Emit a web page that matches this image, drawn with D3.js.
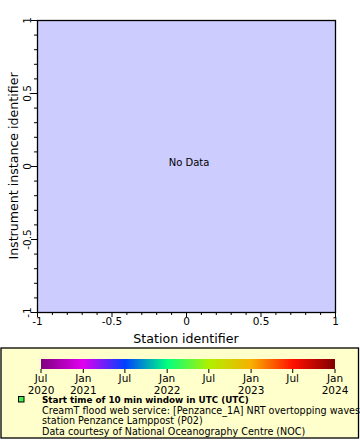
<!DOCTYPE html>
<html>
<head>
<meta charset="utf-8">
<script src="https://cdn.jsdelivr.net/npm/d3@7"></script>
<style>
html,body{margin:0;padding:0;background:#fff;}
svg{display:block;font-family:"DejaVu Sans",sans-serif;}
</style>
</head>
<body>
<svg id="chart" width="360" height="440"></svg>
<script>
// ---- data ----
const xDomain = [-1, 1];
const yDomain = [-1, 1];
const xTickValues = [-1, -0.5, 0, 0.5, 1];
const yTickValues = [-1, -0.5, 0, 0.5, 1];
const xTickLabels = ["-1", "-0.5", "0", "0.5", "1"];
const yTickLabels = ["-1", "-0.5", "0", "0.5", "1"];
const minorStep = 0.1;
const xTitle = "Station identifier";
const yTitle = "Instrument instance identifier";
const noDataText = "No Data";
const cbarStart = new Date(2020, 6, 1);
const cbarEnd = new Date(2024, 0, 1);
const cbarTickDates = [new Date(2020,6,1), new Date(2021,0,1), new Date(2021,6,1), new Date(2022,0,1),
                       new Date(2022,6,1), new Date(2023,0,1), new Date(2023,6,1), new Date(2024,0,1)];
const cbarTickLine1 = ["Jul","Jan","Jul","Jan","Jul","Jan","Jul","Jan"];
const cbarTickLine2 = ["2020","2021","","2022","","2023","","2024"];
const paletteColors = ["#800080","#e000f0","#0040ff","#00ff80","#b0f000","#f8b000","#ff1000","#800000"];
const legendLines = [
  "Start time of 10 min window in UTC (UTC)",
  "CreamT flood web service: [Penzance_1A] NRT overtopping waves",
  "station Penzance Lamppost (P02)",
  "Data courtesy of National Oceanography Centre (NOC)"
];

// ---- layout ----
const svg = d3.select("#chart");
const plot = {left: 37, right: 335, top: 20, bottom: 312};
const x = d3.scaleLinear().domain(xDomain).range([plot.left, plot.right]);
const y = d3.scaleLinear().domain(yDomain).range([plot.bottom, plot.top]);

svg.append("rect").attr("x", plot.left).attr("y", plot.top)
  .attr("width", plot.right - plot.left).attr("height", plot.bottom - plot.top)
  .attr("fill", "#ccccff");

const minorVals = d3.range(-10, 11).map(d => d * minorStep).filter(v => !xTickValues.some(t => Math.abs(t - v) < 1e-9));

// x axis
const xAxis = svg.append("g").attr("transform", `translate(0,${plot.bottom})`);
xAxis.call(d3.axisBottom(x).tickValues(minorVals).tickSize(3).tickFormat(""));
xAxis.append("g").call(d3.axisBottom(x).tickValues(xTickValues).tickSize(5)
  .tickFormat((d,i) => xTickLabels[i]));
xAxis.selectAll(".domain").remove();
xAxis.selectAll("line").attr("stroke", "#000");
xAxis.selectAll("text").attr("font-size", "10.5px").attr("fill", "#000")
  .attr("font-family", "DejaVu Sans").attr("dy", "0.71em").attr("y", 6);

// y axis
const yAxis = svg.append("g").attr("transform", `translate(${plot.left},0)`);
yAxis.call(d3.axisLeft(y).tickValues(minorVals).tickSize(3).tickFormat(""));
const yMajor = yAxis.append("g").call(d3.axisLeft(y).tickValues(yTickValues).tickSize(6)
  .tickFormat((d,i) => yTickLabels[i]));
yAxis.selectAll(".domain").remove();
yAxis.selectAll("line").attr("stroke", "#000");
yMajor.selectAll("text")
  .attr("font-size", "10.5px").attr("fill", "#000").attr("font-family", "DejaVu Sans")
  .attr("x", null).attr("dy", null)
  .attr("text-anchor", "middle")
  .attr("transform", "translate(-6,0) rotate(-90)")
  .attr("y", 0);

// frame
svg.append("rect").attr("x", plot.left + 0.5).attr("y", plot.top + 0.5)
  .attr("width", plot.right - plot.left).attr("height", plot.bottom - plot.top)
  .attr("fill", "none").attr("stroke", "#000").attr("stroke-width", 1.3);

// titles
svg.append("text").attr("x", (plot.left + plot.right) / 2).attr("y", 343)
  .attr("text-anchor", "middle").attr("font-size", "12.6px").attr("fill", "#000").text(xTitle);
svg.append("text").attr("transform", `translate(18,${(plot.top + plot.bottom) / 2}) rotate(-90)`)
  .attr("text-anchor", "middle").attr("font-size", "12.6px").attr("fill", "#000").text(yTitle);

svg.append("text").attr("x", x(0) + 3).attr("y", y(0.04) + 5.5)
  .attr("text-anchor", "middle").attr("font-size", "10px").attr("fill", "#000").text(noDataText);

// legend box
svg.append("rect").attr("x", 1).attr("y", 348).attr("width", 357.5).attr("height", 90)
  .attr("fill", "#ffffcc").attr("stroke", "#000").attr("stroke-width", 1.3);

// colorbar
const cb = {left: 41, right: 335, top: 359, bottom: 369};
const t = d3.scaleTime().domain([cbarStart, cbarEnd]).range([cb.left, cb.right]);
const defs = svg.append("defs");
const grad = defs.append("linearGradient").attr("id", "cbar").attr("x1", "0%").attr("x2", "100%");
paletteColors.forEach((c, i) => grad.append("stop")
  .attr("offset", (i / (paletteColors.length - 1) * 100) + "%").attr("stop-color", c));
svg.append("rect").attr("x", cb.left).attr("y", cb.top)
  .attr("width", cb.right - cb.left).attr("height", cb.bottom - cb.top).attr("fill", "url(#cbar)");

const cbTicks = svg.append("g");
cbTicks.selectAll("line").data(cbarTickDates).join("line")
  .attr("x1", d => t(d)).attr("x2", d => t(d)).attr("y1", cb.bottom).attr("y2", cb.bottom + 4)
  .attr("stroke", "#000");
cbTicks.selectAll("text.l1").data(cbarTickDates).join("text").attr("class", "l1")
  .attr("x", d => t(d)).attr("y", 382).attr("text-anchor", "middle")
  .attr("font-size", "10.5px").attr("fill", "#000").text((d, i) => cbarTickLine1[i]);
cbTicks.selectAll("text.l2").data(cbarTickDates).join("text").attr("class", "l2")
  .attr("x", d => t(d)).attr("y", 393.5).attr("text-anchor", "middle")
  .attr("font-size", "10.5px").attr("fill", "#000").text((d, i) => cbarTickLine2[i]);

// legend marker and lines
svg.append("rect").attr("x", 18.5).attr("y", 396.5).attr("width", 5.5).attr("height", 5.5)
  .attr("fill", "#44ee44").attr("stroke", "#000").attr("stroke-width", 1);
const lineY = [403, 413.5, 424, 434.5];
const lineSize = [8.8, 9.6, 9.6, 9.6];
svg.selectAll("text.leg").data(legendLines).join("text").attr("class", "leg")
  .attr("x", 42).attr("y", (d, i) => lineY[i])
  .attr("font-size", (d, i) => lineSize[i] + "px").attr("fill", "#000")
  .attr("font-weight", (d, i) => i === 0 ? "bold" : "normal")
  .text(d => d);
</script>
</body>
</html>
